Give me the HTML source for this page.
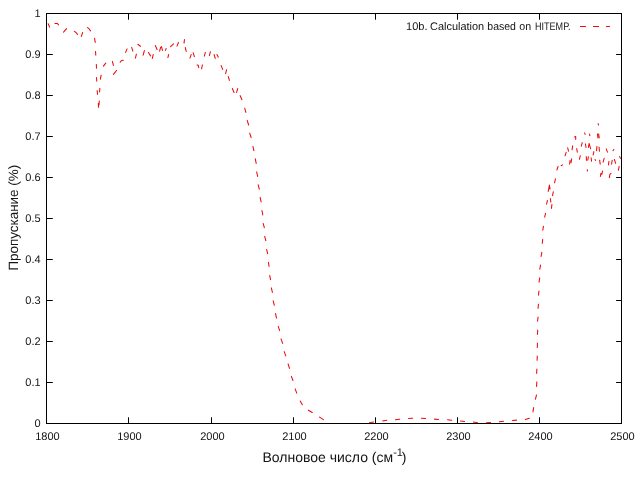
<!DOCTYPE html>
<html lang="ru"><head><meta charset="utf-8"><title>Пропускание</title>
<style>
html,body{margin:0;padding:0;background:#fff;width:640px;height:480px;overflow:hidden}
svg{display:block;font-family:"Liberation Sans",sans-serif;fill:#141414;will-change:transform;transform:translateZ(0)}
text{text-rendering:geometricPrecision}
.t{font-size:11px}
.a{font-size:13.6px}
</style></head><body>
<svg width="640" height="480" viewBox="0 0 640 480">
<rect width="640" height="480" fill="#fff"/>
<path d="M48.16 23.67 L49.64 27.13 M54.90 23.50 L57.50 23.50 L58.56 24.88 M63.56 32.19 L66.54 28.61 M74.34 31.42 L76.00 32.50 L77.55 34.39 M81.33 36.42 L82.67 32.38 M87.52 27.55 L89.00 28.70 L90.48 30.87 M94.57 38.39 L95.23 42.41 M95.53 51.40 L95.77 55.10 M96.32 64.40 L96.48 68.30 M96.53 77.60 L96.77 81.10 M97.14 90.50 L97.56 94.35 M98.27 103.50 L98.48 107.35 M99.03 104.85 L99.27 101.00 M99.54 92.00 L99.86 88.30 M100.38 79.11 L101.12 75.19 M103.44 66.18 L105.76 63.12 M112.40 61.39 L113.40 65.41 M113.45 74.39 L116.55 70.51 M120.24 62.18 L121.50 60.50 L123.40 60.25 M125.65 52.43 L127.05 48.87 M131.63 47.38 L132.87 51.12 M135.40 58.11 L136.40 54.19 M137.82 44.24 L140.48 46.26 M143.11 55.12 L144.39 50.58 M148.42 52.54 L150.58 55.86 M152.29 58.41 L153.21 54.59 M155.36 45.57 L157.04 49.43 M159.61 51.11 L160.69 47.19 M161.58 46.59 L162.42 50.41 M165.43 50.42 L166.17 48.38 M167.89 57.61 L168.61 54.59 M170.58 46.72 L173.52 43.78 M176.95 46.13 L178.45 42.57 M184.05 43.10 L184.45 39.60 M185.29 47.59 L186.21 51.41 M189.93 58.12 L191.17 54.58 M193.12 52.68 L194.38 56.62 M197.09 64.90 L198.20 65.20 L198.72 67.61 M201.58 68.81 L202.42 64.89 M204.31 56.12 L205.39 52.38 M209.40 55.61 L210.40 51.69 M214.11 54.58 L215.19 58.42 M216.98 54.56 L218.32 57.14 M221.15 65.57 L222.65 69.43 M225.60 73.61 L226.60 69.69 M228.31 76.58 L229.39 80.42 M232.36 88.57 L234.04 92.43 M236.61 92.42 L237.69 88.58 M240.16 95.67 L241.94 99.73 M244.71 108.14 L245.89 112.36 M247.22 120.38 L248.63 125.02 M249.72 133.13 L251.13 137.52 M252.89 146.39 L253.91 150.61 M255.32 158.89 L256.18 163.36 M256.68 171.89 L257.67 176.51 M258.20 184.79 L259.30 189.21 M260.09 197.39 L261.16 201.86 M261.98 210.64 L262.82 215.01 M263.20 223.49 L264.30 227.71 M264.70 236.39 L265.80 240.61 M266.60 249.49 L267.65 253.61 M268.46 262.30 L269.04 266.50 M269.68 275.39 L270.52 279.61 M271.34 287.89 L272.41 292.36 M273.20 300.79 L274.30 305.21 M275.49 313.49 L276.51 318.01 M278.23 326.38 L279.62 330.62 M281.03 338.88 L282.62 343.37 M284.15 351.62 L285.85 355.88 M288.12 363.98 L289.48 368.37 M291.39 376.37 L292.96 380.53 M295.14 388.87 L296.76 393.13 M300.20 400.95 L302.30 404.65 M308.34 410.21 L312.26 412.54 M319.53 417.12 L323.42 419.68 M369.49 422.83 L373.71 422.07 M382.65 420.94 L386.85 420.31 M395.40 419.70 L399.60 419.15 M408.50 418.57 L412.70 418.28 M421.40 418.27 L425.60 418.48 M434.50 419.13 L438.50 419.47 M447.50 419.80 L451.70 420.35 M460.40 420.95 L464.60 421.45 M473.29 421.97 L477.51 422.68 M486.40 422.73 L490.60 422.52 M499.40 421.85 L503.60 421.30 M512.50 420.56 L516.50 420.14 M525.38 419.48 L529.37 418.22 M532.97 411.86 L533.68 407.64 M535.49 399.21 L536.51 394.99 M536.53 386.50 L536.87 381.90 M536.62 373.35 L536.88 369.10 M537.11 360.20 L537.24 356.00 M537.27 347.50 L537.48 343.15 M537.43 334.35 L537.72 330.15 M537.55 321.20 L538.05 317.00 M538.04 308.35 L538.46 304.15 M538.45 295.20 L538.95 291.00 M539.06 282.10 L539.69 277.90 M539.82 269.21 L540.53 265.14 M541.07 256.51 L541.83 252.29 M542.29 243.35 L542.71 239.20 M542.81 230.21 L543.44 226.39 M544.68 217.11 L545.52 213.29 M546.58 204.21 L547.42 200.39 M548.18 191.51 L549.40 185.10 L550.04 189.10 M550.31 198.50 L550.84 202.10 M551.45 208.35 L551.95 204.40 M552.58 195.61 L553.32 191.69 M554.50 182.81 L555.50 178.89 M556.88 170.02 L558.12 166.38 M561.22 165.76 L562.43 164.84 M565.03 155.82 L566.17 152.38 M567.69 147.79 L568.51 151.21 M569.56 164.20 L570.14 160.40 M571.06 162.71 L571.69 158.89 M572.06 149.80 L572.64 145.90 M574.66 136.92 L575.70 136.40 L575.70 139.35 M576.76 148.60 L577.29 152.20 M579.40 159.31 L580.30 155.69 M581.30 146.21 L582.25 142.64 M584.63 132.88 L585.12 134.37 M585.46 143.90 L586.04 147.50 M586.23 156.60 L586.47 160.35 M587.77 160.21 L588.43 156.69 M587.18 169.78 L587.62 171.02 M588.37 147.51 L589.10 143.40 L590.59 148.71 M589.57 134.14 L589.83 135.61 M591.15 157.80 L591.55 161.20 M593.09 155.01 L593.91 151.64 M595.08 159.46 L595.57 160.39 M596.54 150.60 L596.96 146.40 M597.45 133.90 L597.95 137.85 M598.65 133.90 L599.20 137.85 M598.11 123.64 L598.49 125.01 M599.04 147.00 L599.46 151.20 M599.65 160.15 L600.20 164.10 M600.37 176.41 L600.93 173.29 M601.83 174.36 L602.52 171.09 M603.10 162.11 L604.15 158.29 M606.24 148.87 L607.46 152.13 M608.45 165.00 L608.95 161.40 M609.32 177.61 L609.90 174.40 L611.00 173.46 M611.57 164.11 L612.18 160.39 M612.97 150.67 L613.78 149.43 M614.37 159.48 L615.63 163.37 M618.33 170.31 L619.17 166.39 M619.47 156.58 L620.68 158.42 M580.40 26.50 L585.60 26.50 M593.40 26.50 L598.60 26.50 M606.40 26.50 L609.60 26.50" fill="none" stroke="#ee0a0a" stroke-width="1.05" stroke-linecap="round" stroke-linejoin="round"/>
<path d="M128.5 423.5 V417.3 M128.5 13.5 V19.7 M211.5 423.5 V417.3 M211.5 13.5 V19.7 M293.5 423.5 V417.3 M293.5 13.5 V19.7 M375.5 423.5 V417.3 M375.5 13.5 V19.7 M457.5 423.5 V417.3 M457.5 13.5 V19.7 M539.5 423.5 V417.3 M539.5 13.5 V19.7 M46.5 382.5 H52.8 M621.5 382.5 H616.1 M46.5 341.5 H52.8 M621.5 341.5 H616.1 M46.5 300.5 H52.8 M621.5 300.5 H616.1 M46.5 259.5 H52.8 M621.5 259.5 H616.1 M46.5 218.5 H52.8 M621.5 218.5 H616.1 M46.5 177.5 H52.8 M621.5 177.5 H616.1 M46.5 136.5 H52.8 M621.5 136.5 H616.1 M46.5 95.5 H52.8 M621.5 95.5 H616.1 M46.5 54.5 H52.8 M621.5 54.5 H616.1" fill="none" stroke="#000" stroke-width="1"/>
<rect x="46.5" y="13.5" width="575" height="410" fill="none" stroke="#000" stroke-width="1" shape-rendering="crispEdges"/>
<g class="t"><text x="47.5" y="440" text-anchor="middle">1800</text><text x="129.5" y="440" text-anchor="middle">1900</text><text x="212.5" y="440" text-anchor="middle">2000</text><text x="294.5" y="440" text-anchor="middle">2100</text><text x="376.5" y="440" text-anchor="middle">2200</text><text x="458.5" y="440" text-anchor="middle">2300</text><text x="540.5" y="440" text-anchor="middle">2400</text><text x="622.5" y="440" text-anchor="middle">2500</text><text x="40.6" y="427.0" text-anchor="end">0</text><text x="40.6" y="386.4" text-anchor="end">0.1</text><text x="40.6" y="345.4" text-anchor="end">0.2</text><text x="40.6" y="304.4" text-anchor="end">0.3</text><text x="40.6" y="263.4" text-anchor="end">0.4</text><text x="40.6" y="222.4" text-anchor="end">0.5</text><text x="40.6" y="181.4" text-anchor="end">0.6</text><text x="40.6" y="140.4" text-anchor="end">0.7</text><text x="40.6" y="99.4" text-anchor="end">0.8</text><text x="40.6" y="58.4" text-anchor="end">0.9</text><text x="40.6" y="17.4" text-anchor="end">1</text>
<text y="29.6"><tspan x="406.1" textLength="21.42" lengthAdjust="spacingAndGlyphs">10b.</tspan> <tspan x="430.0" textLength="54.15" lengthAdjust="spacingAndGlyphs">Calculation</tspan> <tspan x="487.3" textLength="28.64" lengthAdjust="spacingAndGlyphs">based</tspan> <tspan x="519.3" textLength="11.88" lengthAdjust="spacingAndGlyphs">on</tspan> <tspan x="535.0" textLength="35.56" lengthAdjust="spacingAndGlyphs">HITEMP.</tspan></text></g>
<g class="a">
<text x="334.5" y="461.6" text-anchor="middle" font-size="14px">Волновое число (см<tspan dy="-5.2" font-size="11px">-1</tspan><tspan dy="5.2" dx="-1.1">)</tspan></text>
<text transform="translate(17.6,217.7) rotate(-90)" text-anchor="middle" font-size="13.45px">Пропускание (%)</text>
</g>
</svg>
</body></html>
